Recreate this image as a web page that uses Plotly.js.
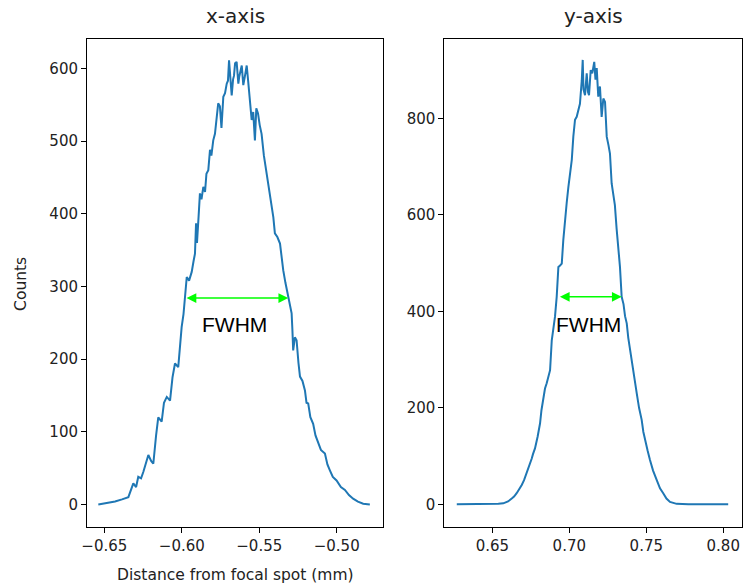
<!DOCTYPE html>
<html>
<head>
<meta charset="utf-8">
<script src="https://cdn.plot.ly/plotly-3.0.1.min.js"></script>
<style>html,body{margin:0;padding:0;background:#fff;}#chart{width:743px;height:587px;}</style>
</head>
<body>
<div id="chart"></div>
<script>
// x-axis profile (distance in mm, counts)
const xLeft = [-0.6539,-0.6476,-0.6431,-0.6386,-0.6345,-0.6313,-0.6295,-0.6281,-0.6263,-0.6248,-0.6216,-0.6198,-0.6184,-0.6166,-0.6152,-0.6130,-0.6115,-0.6097,-0.6076,-0.6060,-0.6044,-0.6023,-0.6012,-0.6001,-0.5989,-0.5979,-0.5968,-0.5953,-0.5936,-0.5924,-0.5915,-0.5908,-0.5902,-0.5892,-0.5883,-0.5873,-0.5861,-0.5850,-0.5841,-0.5829,-0.5818,-0.5809,-0.5797,-0.5786,-0.5776,-0.5765,-0.5754,-0.5744,-0.5732,-0.5721,-0.5710,-0.5702,-0.5695,-0.5686,-0.5678,-0.5669,-0.5663,-0.5656,-0.5646,-0.5635,-0.5629,-0.5613,-0.5603,-0.5592,-0.5581,-0.5571,-0.5560,-0.5549,-0.5539,-0.5528,-0.5519,-0.5508,-0.5497,-0.5485,-0.5470,-0.5452,-0.5438,-0.5420,-0.5409,-0.5399,-0.5383,-0.5366,-0.5357,-0.5345,-0.5331,-0.5313,-0.5302,-0.5291,-0.5286,-0.5281,-0.5270,-0.5259,-0.5247,-0.5237,-0.5221,-0.5205,-0.5195,-0.5184,-0.5170,-0.5152,-0.5137,-0.5119,-0.5102,-0.5076,-0.5060,-0.5044,-0.5025,-0.5001,-0.4973,-0.4947,-0.4921,-0.4894,-0.4863,-0.4829,-0.4786];
const countsLeft = [0,2,4,7,10,29,24,38,36,45,68,60,56,95,120,114,140,148,143,175,194,189,220,244,262,286,313,308,320,335,345,387,360,395,428,420,437,430,455,460,488,480,501,510,535,552,548,518,561,566,579,583,611,590,563,585,590,607,609,579,589,604,577,590,604,581,555,529,540,501,545,538,522,510,480,455,430,405,395,373,368,359,340,322,305,286,270,263,240,212,230,226,195,176,170,157,140,139,120,111,95,84,75,70,55,47,38,33,24,20,13,8,4,1,0];

// y-axis profile
const xRight = [0.6269,0.6355,0.6453,0.6539,0.6571,0.6602,0.6626,0.6641,0.6658,0.6673,0.6691,0.6706,0.6723,0.6738,0.6756,0.6764,0.6777,0.6794,0.6810,0.6819,0.6831,0.6842,0.6853,0.6864,0.6875,0.6886,0.6896,0.6907,0.6918,0.6929,0.6940,0.6951,0.6961,0.6972,0.6983,0.6994,0.7005,0.7016,0.7026,0.7037,0.7048,0.7056,0.7063,0.7069,0.7081,0.7087,0.7092,0.7102,0.7113,0.7121,0.7128,0.7139,0.7149,0.7157,0.7162,0.7170,0.7178,0.7188,0.7199,0.7210,0.7221,0.7232,0.7243,0.7254,0.7264,0.7275,0.7286,0.7296,0.7307,0.7319,0.7329,0.7340,0.7352,0.7362,0.7373,0.7383,0.7394,0.7405,0.7416,0.7427,0.7438,0.7453,0.7470,0.7481,0.7492,0.7508,0.7524,0.7544,0.7568,0.7589,0.7610,0.7631,0.7654,0.7697,0.7773,0.7849,0.7946,0.8032];
const countsRight = [0,0,0,1,2,6,12,16,23,30,40,50,64,78,95,104,116,140,168,195,223,240,251,262,278,340,362,389,430,492,495,499,548,596,625,658,690,714,762,797,803,815,824,830,879,921,860,848,893,855,848,900,893,910,917,880,904,845,866,803,841,834,762,745,727,665,638,620,572,530,492,430,415,390,375,345,320,300,278,255,230,200,175,150,133,112,92,70,50,33,23,12,5,1,0,0,0,0];

// FWHM markers: [start, end, level]
const fwhmLeft = [-0.5979, -0.5313, 284];
const fwhmRight = [0.6929, 0.7340, 430];
const fwhmLabel = "FWHM";
const fwhmLabelLeft = [-0.5663, 247];
const fwhmLabelRight = [0.7123, 372];

const panelTitles = ["x-axis", "y-axis"];
const xAxisLabel = "Distance from focal spot (mm)";
const yAxisLabel = "Counts";

const blue = "#1f77b4";
const green = "#00ff00";
const txtFamily = "'DejaVu Sans', sans-serif";
const tickFont = {family: txtFamily, size: 15, color: "#222"};

const traces = [
  {x: xLeft, y: countsLeft, type: "scatter", mode: "lines", line: {color: blue, width: 2}, xaxis: "x", yaxis: "y", hoverinfo: "skip"},
  {x: xRight, y: countsRight, type: "scatter", mode: "lines", line: {color: blue, width: 2}, xaxis: "x2", yaxis: "y2", hoverinfo: "skip"}
];

function arrow(xr, yr, f) {
  return {xref: xr, yref: yr, axref: xr, ayref: yr, x: f[1], y: f[2], ax: f[0], ay: f[2],
    text: "", showarrow: true, arrowside: "end+start", arrowhead: 2, arrowsize: 1.3,
    arrowwidth: 1.5, arrowcolor: green, standoff: 0, startstandoff: 0};
}
function label(xr, yr, p) {
  return {xref: xr, yref: yr, x: p[0], y: p[1], xanchor: "center", yanchor: "middle", text: fwhmLabel, showarrow: false,
    font: {family: "'Liberation Sans', Arial, sans-serif", size: 21, color: "#000"}};
}

const axisCommon = {showline: true, linecolor: "#000", linewidth: 1, mirror: true,
  ticks: "outside", ticklen: 5, tickcolor: "#000", tickwidth: 1, showgrid: false,
  zeroline: false, tickfont: tickFont};

const layout = {
  width: 743, height: 587,
  margin: {l: 0, r: 0, t: 0, b: 0},
  paper_bgcolor: "#fff", plot_bgcolor: "#fff",
  showlegend: false,
  xaxis: Object.assign({}, axisCommon, {domain: [0.1171, 0.5155], anchor: "y", range: [-0.6612, -0.4701], tick0: -0.65, dtick: 0.05, tickformat: ".2f"}),
  yaxis: Object.assign({}, axisCommon, {domain: [0.1022, 0.9336], anchor: "x", range: [-31, 640.5], dtick: 100}),
  xaxis2: Object.assign({}, axisCommon, {domain: [0.598, 0.9983], anchor: "y2", range: [0.6188, 0.812], tick0: 0.65, dtick: 0.05, tickformat: ".2f"}),
  yaxis2: Object.assign({}, axisCommon, {domain: [0.1022, 0.9336], anchor: "x2", range: [-47, 964.4], dtick: 200}),
  annotations: [
    arrow("x", "y", fwhmLeft), arrow("x2", "y2", fwhmRight),
    label("x", "y", fwhmLabelLeft), label("x2", "y2", fwhmLabelRight),
    {xref: "paper", yref: "paper", x: 0.3163, y: 0.973, xanchor: "center", yanchor: "middle", text: panelTitles[0], showarrow: false,
      font: {family: txtFamily, size: 20, color: "#222"}},
    {xref: "paper", yref: "paper", x: 0.7982, y: 0.973, xanchor: "center", yanchor: "middle", text: panelTitles[1], showarrow: false,
      font: {family: txtFamily, size: 20, color: "#222"}},
    {xref: "paper", yref: "paper", x: 0.3163, y: 0.021, xanchor: "center", yanchor: "middle", text: xAxisLabel, showarrow: false,
      font: {family: txtFamily, size: 15.5, color: "#222"}},
    {xref: "paper", yref: "paper", x: 0.028, y: 0.516, xanchor: "center", yanchor: "middle", text: yAxisLabel, showarrow: false, textangle: -90,
      font: {family: txtFamily, size: 15.5, color: "#222"}}
  ]
};

Plotly.newPlot("chart", traces, layout, {staticPlot: true, displayModeBar: false});
</script>
</body>
</html>
